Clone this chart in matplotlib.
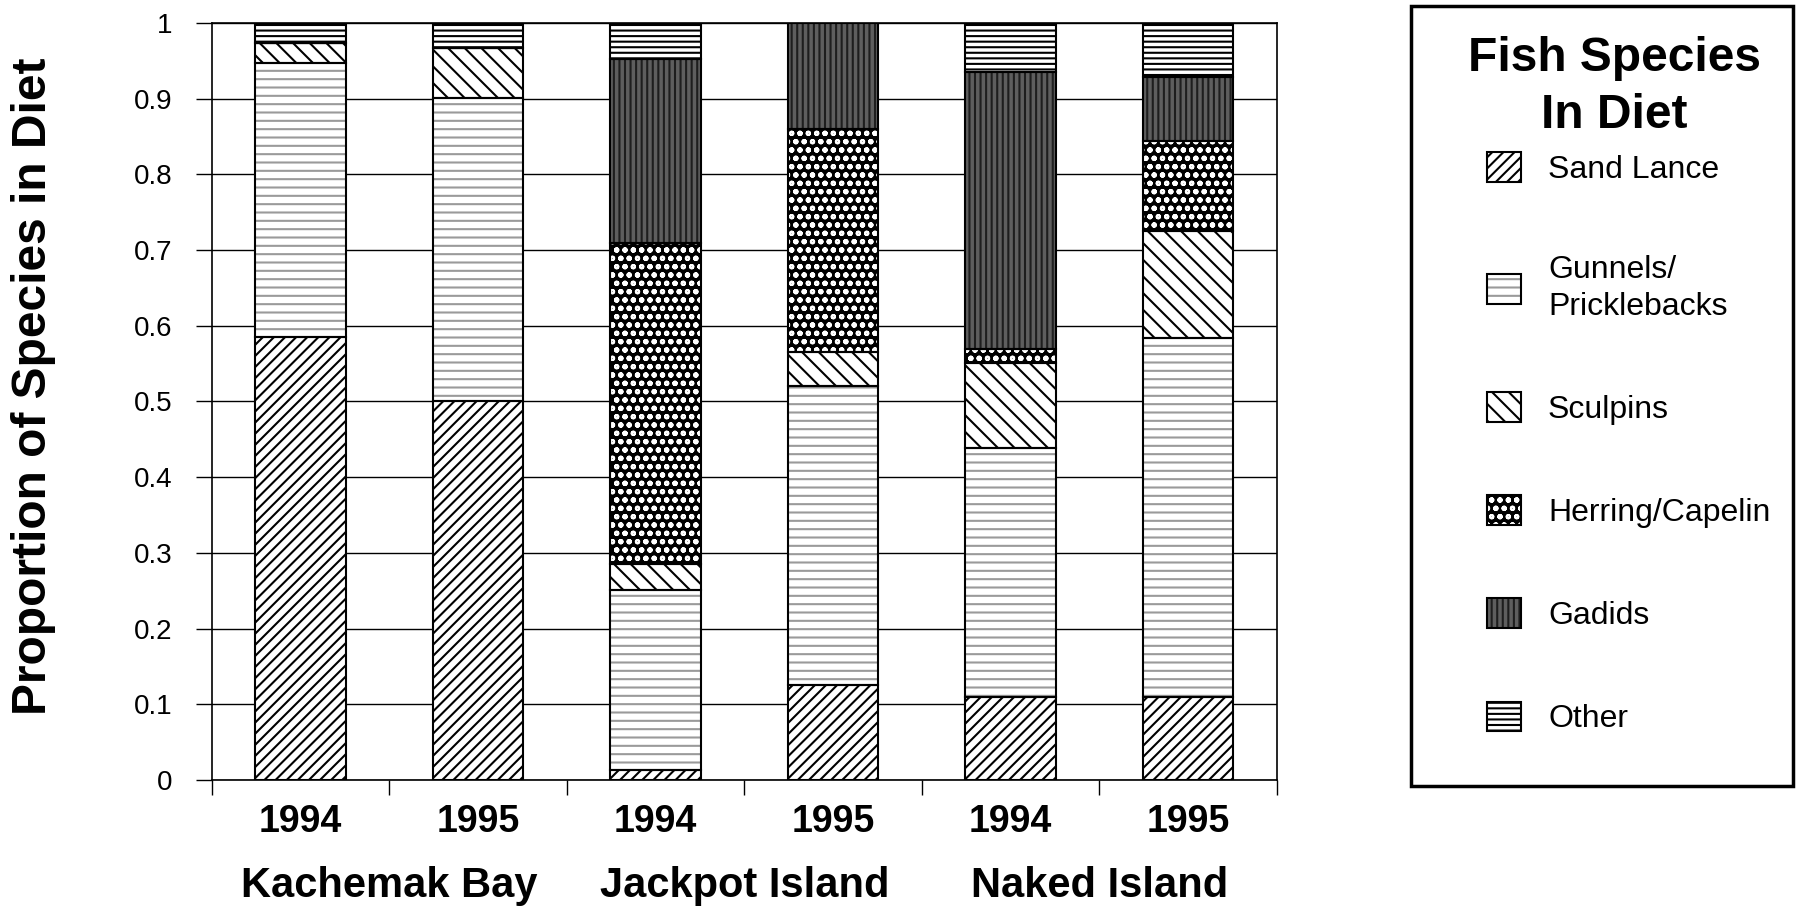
import matplotlib
matplotlib.use('Agg')
import matplotlib.pyplot as plt
from matplotlib.patches import Patch, Rectangle
import numpy as np

# Diet composition per site and year (proportions stack to 1)
years = ['1994', '1995', '1994', '1995', '1994', '1995']
sites = ['Kachemak Bay', 'Jackpot Island', 'Naked Island']
species = ['Sand Lance', 'Gunnels/\nPricklebacks', 'Sculpins',
           'Herring/Capelin', 'Gadids', 'Other']

sand_lance = [0.585, 0.500, 0.013, 0.126, 0.110, 0.110]
gunnels = [0.362, 0.401, 0.238, 0.395, 0.329, 0.474]
sculpins = [0.026, 0.066, 0.034, 0.044, 0.112, 0.141]
herring = [0.000, 0.000, 0.425, 0.295, 0.018, 0.119]
gadids = [0.000, 0.000, 0.242, 0.140, 0.366, 0.084]
other = [0.027, 0.033, 0.048, 0.000, 0.065, 0.072]

yticks = [0, 0.1, 0.2, 0.3, 0.4, 0.5, 0.6, 0.7, 0.8, 0.9, 1.0]
ytick_labels = ['0', '0.1', '0.2', '0.3', '0.4', '0.5', '0.6', '0.7', '0.8', '0.9', '1']

# fill style per species: (face, hatch colour, hatch)
styles = [
    ('white', 'black', '///'),
    ('white', '#9a9a9a', '--'),
    ('white', 'black', '\\\\'),
    ('black', 'white', 'oo'),
    ('#5e5e5e', '#1e1e1e', '|||'),
    ('white', 'black', '---'),
]

plt.rcParams['font.family'] = ['Liberation Sans', 'DejaVu Sans']
plt.rcParams['hatch.linewidth'] = 1.5

fig = plt.figure(figsize=(17.96, 9.08), dpi=100)
ax = fig.add_axes([0.118, 0.141, 0.593, 0.8337])

x = np.arange(len(years))
width = 0.51
bottom = np.zeros(len(years))
for values, (face, hcol, hatch) in zip([sand_lance, gunnels, sculpins, herring, gadids, other], styles):
    values = np.array(values)
    ax.bar(x, values, width, bottom=bottom, color=face, edgecolor=hcol,
           hatch=hatch, linewidth=0, zorder=2)
    ax.bar(x, values, width, bottom=bottom, fill=False, edgecolor='black',
           linewidth=1.5, zorder=3)
    bottom += values

ax.set_xlim(-0.5, len(years) - 0.5)
ax.set_ylim(0, 1)

# horizontal grid
ax.set_yticks(yticks)
ax.set_yticklabels(ytick_labels, family=['Liberation Sans Narrow', 'Liberation Sans'], fontsize=20)
ax.grid(axis='y', color='black', linewidth=1.0)
ax.set_axisbelow(True)
ax.tick_params(axis='y', direction='out', length=11.5, width=1.0, pad=17)

# category boundaries as major ticks, years as minor tick labels
ax.set_xticks(np.arange(-0.5, len(years), 1.0))
ax.set_xticklabels([])
ax.set_xticks(x, minor=True)
ax.set_xticklabels(years, minor=True, fontsize=27, fontweight='bold')
ax.tick_params(axis='x', which='major', direction='out', length=11, width=1.0)
ax.tick_params(axis='x', which='minor', length=0, pad=17)

for s in ax.spines.values():
    s.set_linewidth(1.2)
    s.set_color('black')

for i, site in enumerate(sites):
    ax.text(2 * i + 0.5, -0.1546, site, transform=ax.get_xaxis_transform(),
            ha='center', va='baseline', fontsize=30, fontweight='bold')

fig.text(0.0184, 0.575, 'Proportion of Species in Diet', rotation=90,
         ha='center', va='center', fontsize=34.5, fontweight='bold')

# legend: frame, title and entries
fig.add_artist(Rectangle((1411 / 1796, 1 - 786 / 908), 382 / 1796, 780 / 908,
                         transform=fig.transFigure, fill=False,
                         edgecolor='black', linewidth=2.5, clip_on=False))
fig.text(1614 / 1796, 0.9604, 'Fish Species\nIn Diet', ha='center', va='top',
         fontsize=34.5, fontweight='bold', linespacing=1.34)

handles = [(Patch(facecolor=face, edgecolor=hcol, hatch=hatch, linewidth=0),
            Patch(fill=False, edgecolor='black', linewidth=1.5))
           for face, hcol, hatch in styles]
leg = fig.legend(handles, species, loc='upper left',
                 bbox_to_anchor=(1487 / 1796, 1 - 152 / 908), frameon=False,
                 fontsize=23, handlelength=1.06, handleheight=1.06,
                 handletextpad=0.85, labelspacing=2.2, borderpad=0,
                 borderaxespad=0)
for t in leg.get_texts():
    t.set_linespacing(1.3)

plt.savefig('out.png', dpi=100)
plt.close()
